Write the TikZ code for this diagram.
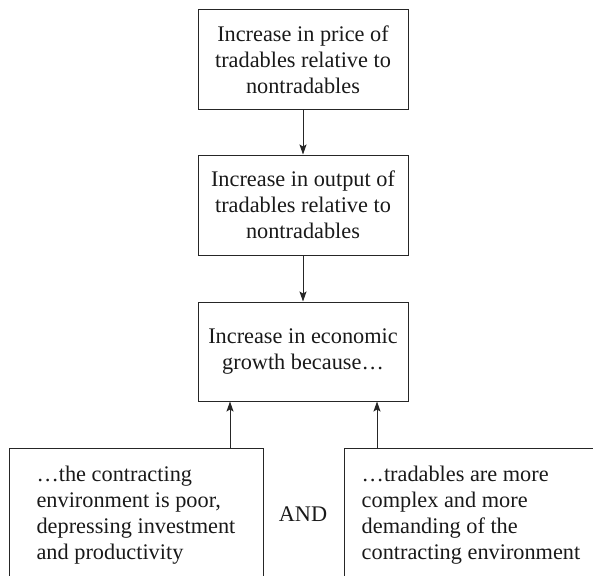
\documentclass[tikz,border=0pt]{standalone}
\usepackage{fontspec}
\setmainfont{Liberation Serif}
\usetikzlibrary{positioning}
\usetikzlibrary{arrows.meta}

\begin{document}
\begin{tikzpicture}[x=1pt,y=-1pt,node distance=45pt]
\tikzstyle{lien}=[-{Stealth[length=10pt,width=7pt,inset=2pt]},line width=1pt,draw=black!85]
\tikzset{etape/.style={draw=black!85,line width=1pt,align=center,minimum width=210pt,
minimum height=#1,inner sep=4pt,text=black!90,font=\fontsize{22.3}{26}\selectfont},
etape/.default={99pt},
cause/.style={draw=black!85,line width=1pt,align=left,minimum width=254pt,
inner xsep=4pt,inner ysep=18pt,text=black!90,font=\fontsize{22.3}{26}\selectfont}}
\clip (0,0) rectangle (593,575);
\node [etape] (prix) at (303,59.5) {Increase in price of\\tradables relative to\\nontradables};
\node [etape=100pt,below=of prix] (prod) {Increase in output of\\tradables relative to\\nontradables};
\node [etape,below=46pt of prod] (growth) {Increase in economic\\growth because…};
\node [cause,below=46pt of growth,xshift=-167pt] (poor) {…the contracting\\environment is poor,\\depressing investment\\and productivity\rule[-60pt]{0pt}{0pt}};
\node [cause,below=46pt of growth,xshift=168pt] (complex) {…tradables are more\\complex and more\\demanding of the\\contracting environment\rule[-60pt]{0pt}{0pt}};
\node [anchor=base,text=black!90,font=\fontsize{22.3}{26}\selectfont] (et) at (303,521) {AND};
% fleches
\coordinate (gauche) at ([xshift=-73pt]growth.south);
\coordinate (droite) at ([xshift=74pt]growth.south);
\draw [lien] (prix) -- (prod);
\draw [lien] (prod) -- (growth);
\draw [lien] (gauche |- poor.north) -- (gauche);
\draw [lien] (droite |- complex.north) -- (droite);
\end{tikzpicture}
\end{document}
